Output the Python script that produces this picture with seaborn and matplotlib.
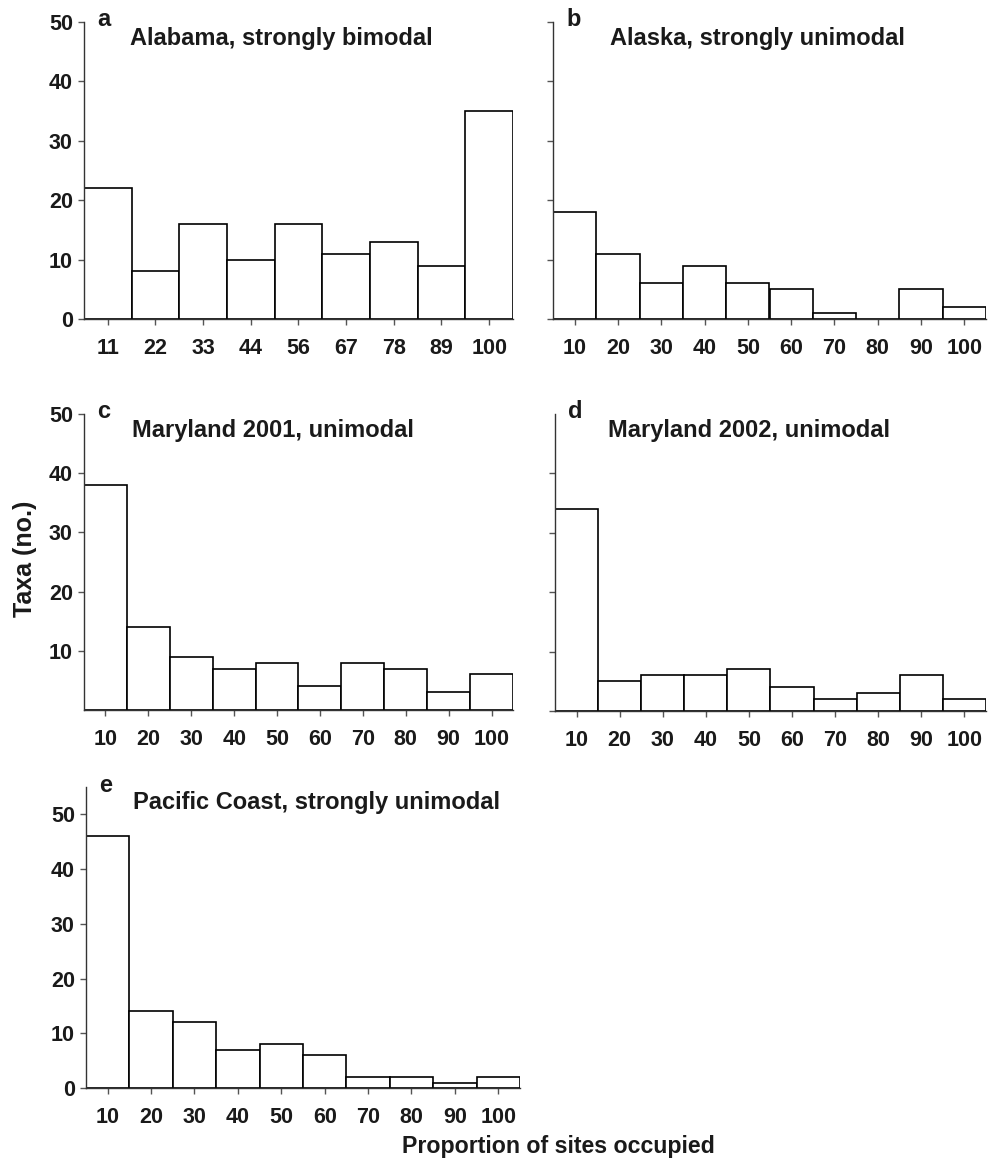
import numpy as np
import pandas as pd
import matplotlib
matplotlib.use("Agg")
import matplotlib.pyplot as plt
import seaborn as sns

# Data
cats_a = ["11", "22", "33", "44", "56", "67", "78", "89", "100"]
cats_10 = ["10", "20", "30", "40", "50", "60", "70", "80", "90", "100"]

alabama = [22, 8, 16, 10, 16, 11, 13, 9, 35]
alaska = [18, 11, 6, 9, 6, 5, 1, 0, 5, 2]
maryland01 = [38, 14, 9, 7, 8, 4, 8, 7, 3, 6]
maryland02 = [34, 5, 6, 6, 7, 4, 2, 3, 6, 2]
pacific = [46, 14, 12, 7, 8, 6, 2, 2, 1, 2]

letters = ["a", "b", "c", "d", "e"]
titles = ["Alabama, strongly bimodal", "Alaska, strongly unimodal",
          "Maryland 2001, unimodal", "Maryland 2002, unimodal",
          "Pacific Coast, strongly unimodal"]

sns.set_style("ticks")
plt.rcParams['font.family'] = ['Liberation Sans', 'DejaVu Sans']
plt.rcParams['font.weight'] = 'bold'

W, H = 995, 1159
fig = plt.figure(figsize=(W / 100, H / 100), dpi=100)

def px_axes(left, right, top, bottom):
    return fig.add_axes([left / W, 1 - bottom / H, (right - left) / W, (bottom - top) / H])

# Panel layout in pixel coordinates
boxes = [(84, 513, 22, 319), (553, 986, 22, 319),
         (84, 513, 414, 710), (555, 986, 414, 711),
         (86, 520, 787, 1088)]
title_x = [130, 610, 132, 608, 133]
series = [(cats_a, alabama), (cats_10, alaska), (cats_10, maryland01),
          (cats_10, maryland02), (cats_10, pacific)]
ylims = [50, 50, 50, 50, 55]
yticks = [[0, 10, 20, 30, 40, 50], [0, 10, 20, 30, 40, 50],
          [10, 20, 30, 40, 50], [0, 10, 20, 30, 40],
          [0, 10, 20, 30, 40, 50]]
show_ylab = [True, False, True, False, True]

for i, (box, (cats, vals)) in enumerate(zip(boxes, series)):
    ax = px_axes(*box)
    df = pd.DataFrame({"cat": cats, "n": vals})
    sns.barplot(data=df, x="cat", y="n", order=cats, color="white",
                edgecolor="black", linewidth=1.2, width=1.0, ax=ax,
                saturation=1)
    ax.set_xlim(-0.5, len(cats) - 0.5)
    ax.set_ylim(0, ylims[i])
    ax.set_yticks(yticks[i])
    if not show_ylab[i]:
        ax.set_yticklabels([])
    ax.set_xlabel("")
    ax.set_ylabel("")
    sns.despine(ax=ax)
    for s in ["left", "bottom"]:
        ax.spines[s].set_color("#333333")
        ax.spines[s].set_linewidth(1.0)
    ax.tick_params(axis="x", length=4, width=1, color="#555555", pad=10,
                   labelsize=15.5)
    ax.tick_params(axis="y", length=4, width=1, color="#555555", pad=4,
                   labelsize=15.5)
    for lab in ax.get_xticklabels() + ax.get_yticklabels():
        lab.set_fontweight("bold")
        lab.set_color("#1a1a1a")
    # panel letter and title
    x0, x1, y0, y1 = box
    fig.text((x0 + 13) / W, 1 - (y0 - 2) / H, letters[i], fontsize=17,
             fontweight="bold", ha="left", va="center", color="#1a1a1a")
    fig.text(title_x[i] / W, 1 - (y0 + 16) / H, titles[i], fontsize=17,
             fontweight="bold", ha="left", va="center", color="#1a1a1a")

fig.text(25 / W, 1 - 559 / H, "Taxa (no.)", rotation=90, fontsize=18,
         fontweight="bold", ha="center", va="center", color="#1a1a1a")
fig.text(558 / W, 1 - 1146 / H, "Proportion of sites occupied", fontsize=16.7,
         fontweight="bold", ha="center", va="center", color="#1a1a1a")

fig.savefig("out.png", dpi=100, facecolor="white")
